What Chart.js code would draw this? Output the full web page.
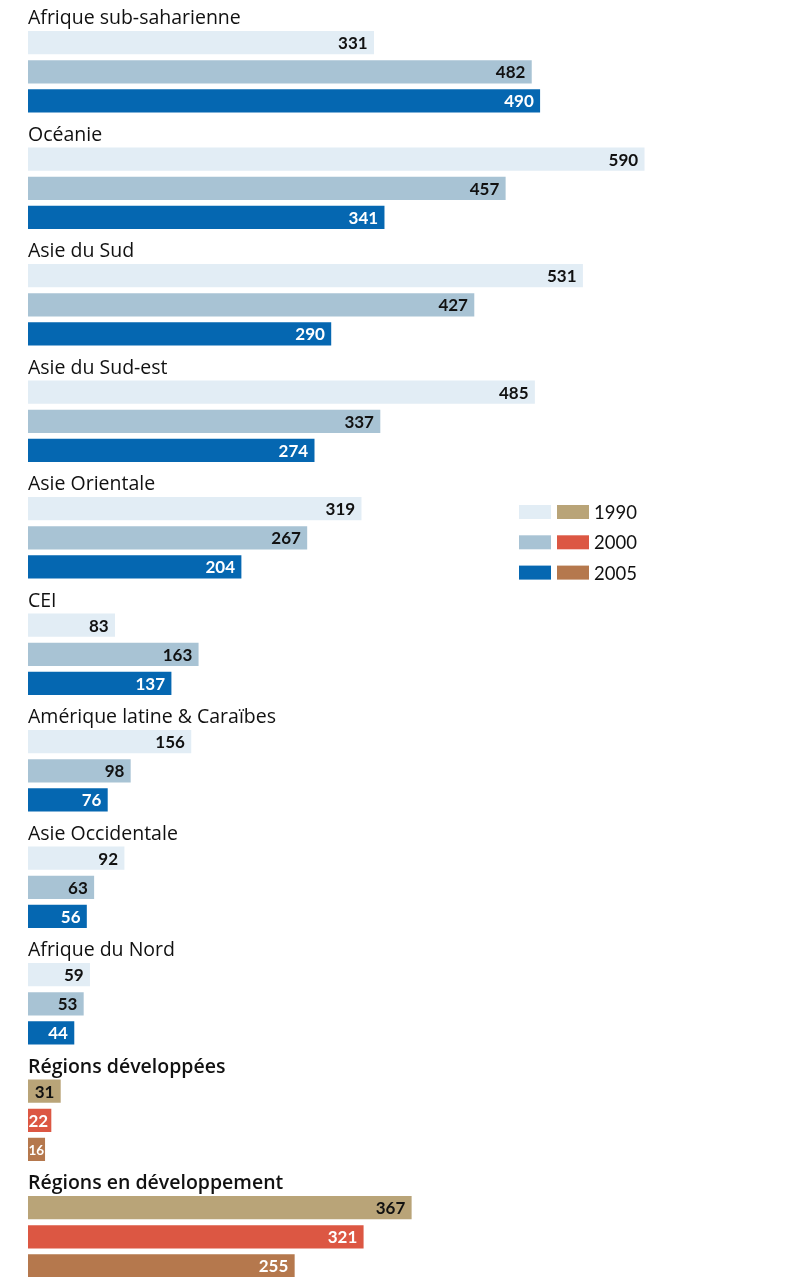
<!DOCTYPE html>
<html>
<head>
<meta charset="utf-8">
<script src="https://cdn.jsdelivr.net/npm/chart.js@4"></script>
<style>
  html, body { margin: 0; padding: 0; background: #fff; overflow: hidden; }
  #wrap { position: absolute; left: 0; top: -1.5px; width: 795px; height: 1281.5px; }
</style>
</head>
<body>
<div id="wrap"><canvas id="chart"></canvas></div>
<script>
const regions = [
	'Afrique sub-saharienne', 'Océanie', 'Asie du Sud', 'Asie du Sud-est',
	'Asie Orientale', 'CEI', 'Amérique latine & Caraïbes', 'Asie Occidentale',
	'Afrique du Nord', 'Régions développées', 'Régions en développement'
];
const v1990 = [331, 590, 531, 485, 319, 83, 156, 92, 59, 31, 367];
const v2000 = [482, 457, 427, 337, 267, 163, 98, 63, 53, 22, 321];
const v2005 = [490, 341, 290, 274, 204, 137, 76, 56, 44, 16, 255];
const years = ['1990', '2000', '2005'];
const aggregates = ['Régions développées', 'Régions en développement'];

const blues = ['#e2edf5', '#a8c3d4', '#0567b1'];
const warms = ['#b9a478', '#dc5743', '#b5784d'];
const textBlue = ['#111', '#111', '#fff'];
const textWarm = ['#111', '#fff', '#fff'];

// one row for the title, then one per year
const rows = [], values = [], colors = [], textColors = [];
regions.forEach((r, i) => {
	const agg = aggregates.includes(r);
	rows.push(r); values.push(null); colors.push('transparent'); textColors.push(null);
	[v1990, v2000, v2005].forEach((arr, k) => {
		rows.push(r + ' ' + years[k]);
		values.push(arr[i]);
		colors.push(agg ? warms[k] : blues[k]);
		textColors.push(agg ? textWarm[k] : textBlue[k]);
	});
});

const TITLE_FONT = '"Open Sans", "Noto Sans", sans-serif';
const NUM_FONT = 'Lato, "Noto Sans", sans-serif';

const labelsPlugin = {
	id: 'labels',
	afterDatasetsDraw(chart) {
		const ctx = chart.ctx;
		const meta = chart.getDatasetMeta(0);
		const yScale = chart.scales.y;
		ctx.save();
		// group titles
		ctx.textAlign = 'left';
		ctx.textBaseline = 'alphabetic';
		ctx.fillStyle = '#111';
		regions.forEach((r, i) => {
			const y = yScale.getPixelForValue(i * 4);
			ctx.font = (aggregates.includes(r) ? '600 ' : '') + '19.5px ' + TITLE_FONT;
			ctx.fillText(r, chart.chartArea.left, y + 10.5);
		});
		// values inside bar ends
		ctx.textAlign = 'right';
		ctx.textBaseline = 'middle';
		meta.data.forEach((el, idx) => {
			const v = values[idx];
			if (v == null) return;
			const txt = String(v);
			ctx.font = 'bold 17px ' + NUM_FONT;
			let w = ctx.measureText(txt).width;
			const room = el.x - el.base - 1;
			if (w > room) {
				// squeeze the label into very short bars
				ctx.font = 'bold ' + (17 * room / w).toFixed(1) + 'px ' + NUM_FONT;
				w = ctx.measureText(txt).width;
			}
			const x = Math.max(el.base + w + 0.5, el.x - 6);
			ctx.fillStyle = textColors[idx];
			ctx.fillText(txt, x, el.y + 1);
		});
		// legend
		ctx.textAlign = 'left';
		ctx.font = '18.5px ' + NUM_FONT;
		years.forEach((yr, k) => {
			const cy = 513 + k * 30.3;
			ctx.fillStyle = blues[k];
			ctx.fillRect(519, cy - 7, 32, 14);
			ctx.fillStyle = warms[k];
			ctx.fillRect(557, cy - 7, 32, 14);
			ctx.fillStyle = '#111';
			ctx.fillText(yr, 594, cy + 1);
		});
		ctx.restore();
	}
};

new Chart(document.getElementById('chart'), {
	type: 'bar',
	data: {
		labels: rows,
		datasets: [{
			data: values,
			backgroundColor: colors,
			barThickness: 22.5,
			borderWidth: 0
		}]
	},
	options: {
		indexAxis: 'y',
		responsive: true,
		maintainAspectRatio: false,
		animation: false,
		layout: { padding: { left: 28, right: 795 - 28 - 700 * 616.2 / 590, top: 0, bottom: 0 } },
		plugins: { legend: { display: false }, tooltip: { enabled: false } },
		scales: {
			x: { display: false, min: 0, max: 700 },
			y: { display: false }
		}
	},
	plugins: [labelsPlugin]
});
</script>
</body>
</html>
